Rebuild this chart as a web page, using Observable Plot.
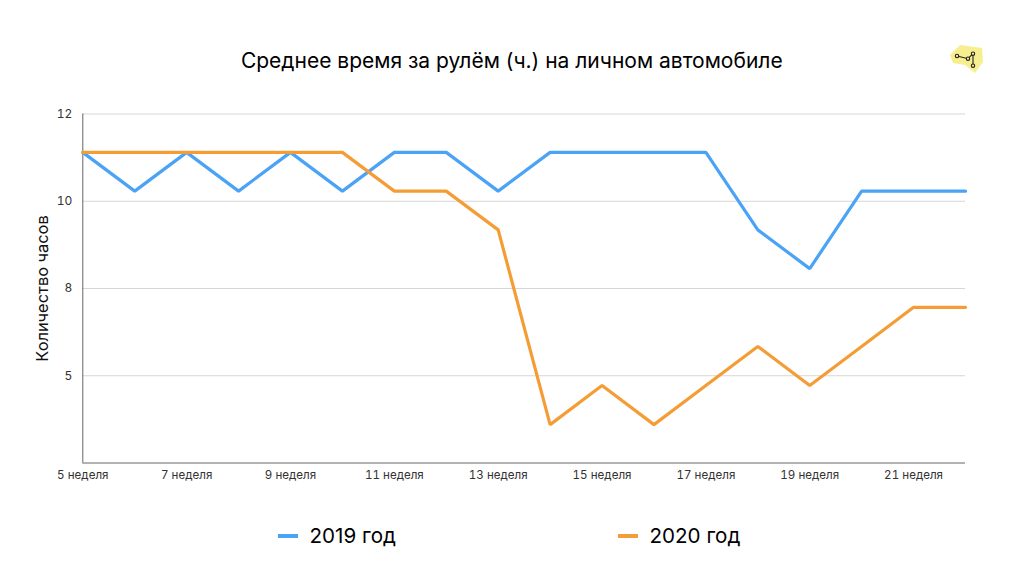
<!DOCTYPE html>
<html lang="ru">
<head>
<meta charset="utf-8">
<script src="https://cdn.jsdelivr.net/npm/d3@7"></script>
<script src="https://cdn.jsdelivr.net/npm/@observablehq/plot@0.6"></script>
<style>
  html, body { margin: 0; padding: 0; background: #fff; width: 1024px; height: 576px; overflow: hidden; }
  body { position: relative; font-family: Inter, "Noto Sans", sans-serif; color: #000; }
  #title { height: 100px; box-sizing: border-box; padding-top: 46px; text-align: center; font-size: 21px; line-height: 30px; letter-spacing: 0; margin-left: -0.5px; }
  #chart { height: 400px; }
  #chart svg { display: block; }
  #legend { position: absolute; top: 522px; left: 0; width: 1024px; height: 28px; font-size: 20.6px; line-height: 28px; }
  .item { position: absolute; top: 0; white-space: nowrap; }
  .swatch { position: absolute; top: 12px; width: 20px; height: 3.5px; }
  #logo { position: absolute; left: 945px; top: 40px; }
</style>
</head>
<body>
<div id="title">Среднее время за рулём (ч.) на личном автомобиле</div>
<div id="chart"></div>
<div id="legend">
  <div class="swatch" style="left:278px;background:#4aa3f5"></div>
  <div class="item" style="left:309.5px">2019 год</div>
  <div class="swatch" style="left:618px;background:#f49d37"></div>
  <div class="item" style="left:649.5px">2020 год</div>
</div>
<svg id="logo" width="44" height="38" viewBox="0 0 44 38">
  <path d="M5 15 L15 5 L37 8 L38 22 L30 33 L20 25 L8 23 Z" fill="#f7ef8f"/>
  <g fill="none" stroke="#222" stroke-width="1.1">
    <path d="M12 16 L23 18.7 L28 13.7 L28 25.7"/>
    <circle cx="12" cy="16" r="1.7" fill="#f7ef8f"/>
    <circle cx="23" cy="18.7" r="1.7" fill="#f7ef8f"/>
    <circle cx="28" cy="13.7" r="1.7" fill="#f7ef8f"/>
    <circle cx="28" cy="25.7" r="1.7" fill="#f7ef8f"/>
  </g>
</svg>
<script>
const weeks = [5, 6, 7, 8, 9, 10, 11, 12, 13, 14, 15, 16, 17, 18, 19, 20, 21, 22];
const hours2019 = [11.4, 10.29, 11.4, 10.29, 11.4, 10.29, 11.4, 11.4, 10.29, 11.4, 11.4, 11.4, 11.4, 9.18, 8.07, 10.29, 10.29, 10.29];
const hours2020 = [11.4, 11.4, 11.4, 11.4, 11.4, 11.4, 10.29, 10.29, 9.18, 3.6, 4.72, 3.6, 4.72, 5.84, 4.72, 5.84, 6.96, 6.96];
const yTicks = [2.5, 5, 7.5, 10, 12.5];
const yTickLabels = ["", "5", "8", "10", "12"];
const xTicks = [5, 7, 9, 11, 13, 15, 17, 19, 21];
const blue = "#4aa3f5";
const orange = "#f49d37";

const rows = (values) => weeks.map((w, i) => ({week: w, hours: values[i]}));

const plot = Plot.plot({
  width: 1024,
  height: 400,
  marginLeft: 82.3,
  marginRight: 59,
  marginTop: 13.5,
  marginBottom: 37.5,
  style: {fontFamily: "Inter, 'Noto Sans', sans-serif", fontSize: "11.5px", color: "#333", background: "#fff"},
  x: {domain: [5, 22], label: null},
  y: {domain: [2.5, 12.5], label: null},
  marks: [
    Plot.ruleY(yTicks.slice(1), {stroke: "#d6d6d6", strokeWidth: 1, strokeOpacity: 1}),
    Plot.ruleX([5], {stroke: "#666", strokeWidth: 1}),
    Plot.ruleY([2.5], {stroke: "#666", strokeWidth: 1}),
    Plot.axisY({ticks: yTicks, tickSize: 0, tickPadding: 10.5, tickFormat: (d) => yTickLabels[yTicks.indexOf(d)], label: null, fill: "#333", fontSize: 12}),
    Plot.axisX({ticks: xTicks, tickSize: 0, tickPadding: 8, tickFormat: (d) => d + " неделя", label: null, fill: "#333", fontSize: 11.6}),
    Plot.text(["Количество часов"], {frameAnchor: "left", dx: -40, rotate: -90, fontSize: 16.4, fill: "#111", lineAnchor: "middle", textAnchor: "middle"}),
    Plot.line(rows(hours2019), {x: "week", y: "hours", stroke: blue, strokeWidth: 3.2, strokeLinejoin: "miter", curve: "linear"}),
    Plot.line(rows(hours2020), {x: "week", y: "hours", stroke: orange, strokeWidth: 3.2, strokeLinejoin: "miter", curve: "linear"})
  ]
});
document.getElementById("chart").append(plot);
</script>
</body>
</html>
